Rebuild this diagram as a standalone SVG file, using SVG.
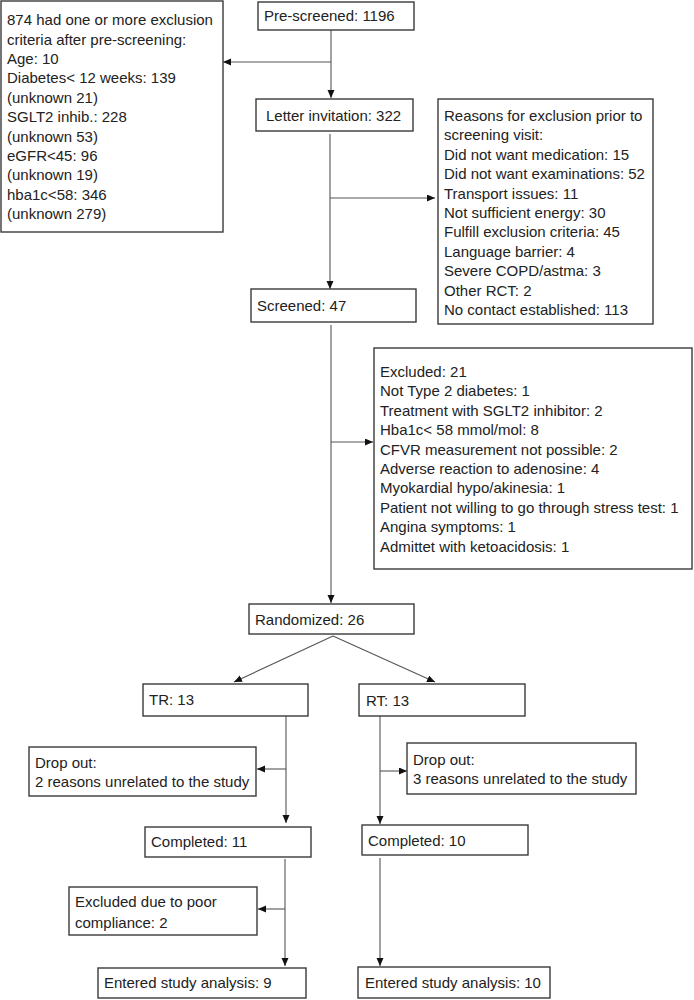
<svg xmlns="http://www.w3.org/2000/svg" width="694" height="1000" viewBox="0 0 694 1000">
<style>
.box{fill:#fff;stroke:#3a3a3a;stroke-width:1.4}
.t{font-family:"Liberation Sans",Arial,sans-serif;font-size:15px;fill:#222}
.c{fill:none;stroke:#555;stroke-width:1.1;marker-end:url(#ah)}
</style>
<defs>
<marker id="ah" markerUnits="userSpaceOnUse" markerWidth="9" markerHeight="8" refX="8" refY="3.5" orient="auto">
<path d="M0,0 L8,3.5 L0,7 z" fill="#111"/>
</marker>
</defs>
<rect width="694" height="1000" fill="#fff"/>
<g id="connectors">
<path class="c" d="M331,30 V98"/>
<path class="c" d="M331,62 H223"/>
<path class="c" d="M330,134 V289"/>
<path class="c" d="M330,198 H435"/>
<path class="c" d="M331,325 V603"/>
<path class="c" d="M331,442 H373"/>
<path class="c" d="M333,636 L234,682"/>
<path class="c" d="M333,636 L435,682"/>
<path class="c" d="M286,716 V823"/>
<path class="c" d="M286,769 H257"/>
<path class="c" d="M285,859 V966"/>
<path class="c" d="M285,909 H258"/>
<path class="c" d="M380,716 V824"/>
<path class="c" d="M380,771 H407"/>
<path class="c" d="M380,858 V966"/>
</g>
<g id="exclusion-prescreen">
<rect class="box" x="1" y="1" width="222" height="231"/>
<text class="t" x="7" y="25">874 had one or more exclusion</text>
<text class="t" x="7" y="44.5">criteria after pre-screening:</text>
<text class="t" x="7" y="64">Age: 10</text>
<text class="t" x="7" y="83.4">Diabetes&lt; 12 weeks: 139</text>
<text class="t" x="7" y="102.8">(unknown 21)</text>
<text class="t" x="7" y="122.2">SGLT2 inhib.: 228</text>
<text class="t" x="7" y="141.6">(unknown 53)</text>
<text class="t" x="7" y="161">eGFR&lt;45: 96</text>
<text class="t" x="7" y="180.4">(unknown 19)</text>
<text class="t" x="7" y="199.8">hba1c&lt;58: 346</text>
<text class="t" x="7" y="219.2">(unknown 279)</text>
</g>
<g id="prescreened">
<rect class="box" x="258" y="2" width="156" height="28"/>
<text class="t" x="264" y="21">Pre-screened: 1196</text>
</g>
<g id="letter">
<rect class="box" x="256" y="99" width="157" height="32"/>
<text class="t" x="266" y="121">Letter invitation: 322</text>
</g>
<g id="reasons">
<rect class="box" x="438" y="99" width="215" height="225"/>
<text class="t" x="444" y="121">Reasons for exclusion prior to</text>
<text class="t" x="444" y="140.4">screening visit:</text>
<text class="t" x="444" y="159.8">Did not want medication: 15</text>
<text class="t" x="444" y="179.2">Did not want examinations: 52</text>
<text class="t" x="444" y="198.6">Transport issues: 11</text>
<text class="t" x="444" y="218">Not sufficient energy: 30</text>
<text class="t" x="444" y="237.4">Fulfill exclusion criteria: 45</text>
<text class="t" x="444" y="256.8">Language barrier: 4</text>
<text class="t" x="444" y="276.2">Severe COPD/astma: 3</text>
<text class="t" x="444" y="295.6">Other RCT: 2</text>
<text class="t" x="444" y="315">No contact established: 113</text>
</g>
<g id="screened">
<rect class="box" x="251" y="289" width="165" height="33"/>
<text class="t" x="257" y="311">Screened: 47</text>
</g>
<g id="excluded">
<rect class="box" x="374" y="348" width="318" height="221"/>
<text class="t" x="380" y="377">Excluded: 21</text>
<text class="t" x="380" y="396.4">Not Type 2 diabetes: 1</text>
<text class="t" x="380" y="415.8">Treatment with SGLT2 inhibitor: 2</text>
<text class="t" x="380" y="435.2">Hba1c&lt; 58 mmol/mol: 8</text>
<text class="t" x="380" y="454.6">CFVR measurement not possible: 2</text>
<text class="t" x="380" y="474">Adverse reaction to adenosine: 4</text>
<text class="t" x="380" y="493.4">Myokardial hypo/akinesia: 1</text>
<text class="t" x="380" y="512.8">Patient not willing to go through stress test: 1</text>
<text class="t" x="380" y="532.2">Angina symptoms: 1</text>
<text class="t" x="380" y="551.6">Admittet with ketoacidosis: 1</text>
</g>
<g id="randomized">
<rect class="box" x="249" y="604" width="165" height="30"/>
<text class="t" x="255" y="625">Randomized: 26</text>
</g>
<g id="tr">
<rect class="box" x="143" y="684" width="165" height="32"/>
<text class="t" x="149" y="705">TR: 13</text>
</g>
<g id="rt">
<rect class="box" x="359" y="684" width="166" height="32"/>
<text class="t" x="366" y="706">RT: 13</text>
</g>
<g id="dropout-tr">
<rect class="box" x="29" y="747" width="227" height="49"/>
<text class="t" x="35" y="768">Drop out:</text>
<text class="t" x="35" y="787">2 reasons unrelated to the study</text>
</g>
<g id="dropout-rt">
<rect class="box" x="407" y="743" width="229" height="51"/>
<text class="t" x="413" y="765">Drop out:</text>
<text class="t" x="413" y="784">3 reasons unrelated to the study</text>
</g>
<g id="completed-tr">
<rect class="box" x="145" y="827" width="166" height="30"/>
<text class="t" x="151" y="847">Completed: 11</text>
</g>
<g id="completed-rt">
<rect class="box" x="362" y="825" width="166" height="30"/>
<text class="t" x="368" y="846">Completed: 10</text>
</g>
<g id="excluded-compliance">
<rect class="box" x="69" y="887" width="188" height="48"/>
<text class="t" x="75" y="907">Excluded due to poor</text>
<text class="t" x="75" y="928">compliance: 2</text>
</g>
<g id="entered-tr">
<rect class="box" x="98" y="968" width="208" height="30"/>
<text class="t" x="104" y="988">Entered study analysis: 9</text>
</g>
<g id="entered-rt">
<rect class="box" x="358" y="967" width="192" height="31"/>
<text class="t" x="365" y="988">Entered study analysis: 10</text>
</g>
</svg>
